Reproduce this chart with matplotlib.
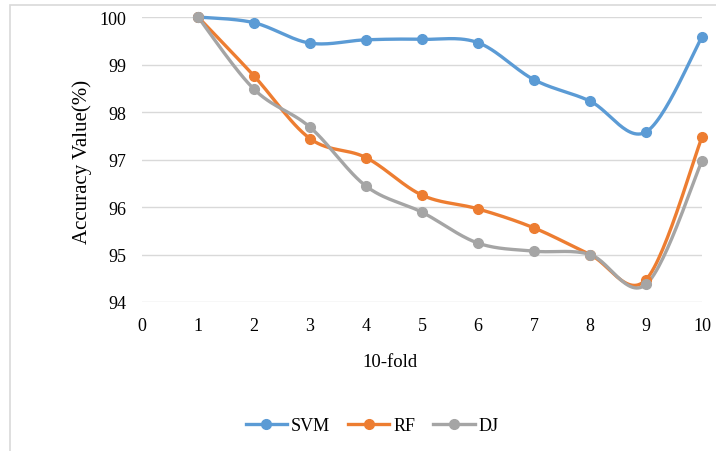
import numpy as np
import matplotlib
matplotlib.use("Agg")
import matplotlib.pyplot as plt
from matplotlib.patches import Rectangle
from matplotlib.lines import Line2D

folds = [1, 2, 3, 4, 5, 6, 7, 8, 9, 10]
svm = [100.0, 99.88, 99.45, 99.52, 99.53, 99.46, 98.68, 98.23, 97.58, 99.58]
rf = [100.0, 98.76, 97.44, 97.04, 96.25, 95.96, 95.56, 95.00, 94.47, 97.47]
dj = [100.0, 98.48, 97.68, 96.44, 95.89, 95.24, 95.07, 95.00, 94.37, 96.97]
series_names = ["SVM", "RF", "DJ"]
colors = ["#5B9BD5", "#ED7D31", "#A5A5A5"]


def smooth(x, y, n=30):
    x = np.asarray(x, float)
    y = np.asarray(y, float)
    P = np.column_stack([x, y])
    Pext = np.vstack([P[0], P, P[-1]])
    out = []
    t = np.linspace(0, 1, n)
    for i in range(len(P) - 1):
        p0, p1, p2, p3 = Pext[i], Pext[i + 1], Pext[i + 2], Pext[i + 3]
        c1 = p1 + (p2 - p0) / 6.0
        c2 = p2 - (p3 - p1) / 6.0
        seg = ((1 - t) ** 3)[:, None] * p1 + (3 * (1 - t) ** 2 * t)[:, None] * c1 \
            + (3 * (1 - t) * t ** 2)[:, None] * c2 + (t ** 3)[:, None] * p2
        out.append(seg if i == 0 else seg[1:])
    s = np.vstack(out)
    return s[:, 0], s[:, 1]


plt.rcParams["font.family"] = ["Liberation Serif", "DejaVu Serif"]

fig = plt.figure(figsize=(7.16, 4.52), dpi=100)
ax = fig.add_axes([142 / 716, 1 - 303 / 452, (702 - 142) / 716, (303 - 18) / 452])

for ys, c, name in zip([svm, rf, dj], colors, series_names):
    sx, sy = smooth(folds, ys)
    ax.plot(sx, sy, color=c, lw=2.4, solid_capstyle="round", clip_on=False, zorder=3)
    ax.plot(folds, ys, "o", color=c, ms=7, clip_on=False, zorder=4)

ax.set_xlim(0, 10)
ax.set_ylim(94, 100)
ax.set_xticks(range(0, 11))
ax.set_yticks(range(94, 101))
ax.tick_params(axis="both", length=0, labelsize=13, colors="#000000")
ax.tick_params(axis="x", pad=11)
ax.tick_params(axis="y", pad=11)
ax.grid(axis="y", color="#D9D9D9", lw=1)
ax.set_axisbelow(True)
for sp in ax.spines.values():
    sp.set_visible(False)

ax.set_xlabel("10-fold", fontsize=13.5, va="center")
ax.xaxis.set_label_coords((390 - 142) / 560, (303 - 363) / 285)
ax.set_ylabel("Accuracy Value(%)", fontsize=15, va="center")
ax.yaxis.set_label_coords((82 - 142) / 560, (303 - 162) / 285)

handles = [Line2D([0], [0], color=c, lw=2.4, marker="o", ms=7) for c in colors]
fig.legend(handles, series_names, loc="center", bbox_to_anchor=(372 / 716, 1 - 427 / 452),
           ncol=3, frameon=False, fontsize=13, handlelength=2.3, columnspacing=1.0,
           handletextpad=0.2)

fig.patches.append(Rectangle((10 / 716, -0.01), 1.0, 1 - 6 / 452 + 0.01,
                             transform=fig.transFigure, fill=False,
                             edgecolor="#D9D9D9", lw=1.2))

fig.savefig("out.png", dpi=100)
